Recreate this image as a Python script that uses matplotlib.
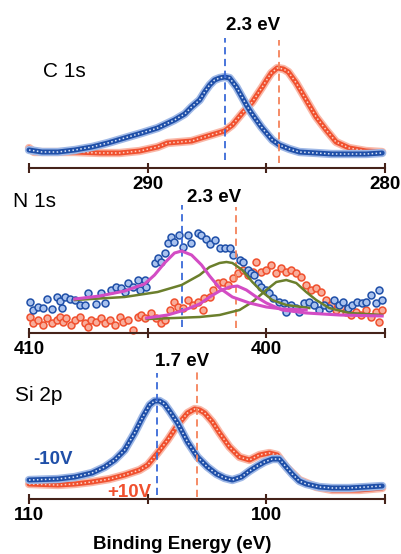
import matplotlib
matplotlib.use('Agg')
from matplotlib import pyplot as plt

plt.rcParams['font.family'] = ['Liberation Sans', 'DejaVu Sans']

W, H = 401, 554

BLUE = '#1f4fa8'
BLUE_FILL = '#a9c2ee'
RED = '#f0502e'
RED_FILL = '#f8ad9b'
BLUE_DASH = '#3a6ad8'
RED_DASH = '#f5825a'
MAGENTA = '#d34cc4'
GREEN = '#6b7f2c'
AXIS = '#45231a'

# C 1s, binding energy (eV) and intensity (a.u.)
C1S_NEG_E = [295.00, 294.45, 293.78, 293.07, 292.35, 291.68, 290.97, 290.25,
             289.58, 288.87, 288.44, 288.15, 287.81, 287.60, 287.39, 287.18,
             286.97, 286.76, 286.55, 286.26, 286.05, 285.84, 285.63, 285.42,
             285.21, 285.00, 284.75, 284.45, 284.03, 283.61, 282.90, 282.23,
             281.51, 280.80, 280.12]
C1S_NEG_I = [18, 16, 16, 18, 21, 25, 30, 35, 40, 48, 54, 61, 68, 76, 83, 88,
             90, 91, 90, 81, 72, 63, 55, 48, 41, 35, 28, 23, 19, 16, 15, 14,
             14, 14, 15]
C1S_POS_E = [295.00, 294.79, 294.12, 293.07, 292.02, 291.18, 290.34, 289.58,
             289.16, 288.65, 288.15, 287.60, 287.18, 286.76, 286.43, 286.01,
             285.59, 285.17, 284.96, 284.79, 284.54, 284.28, 284.07, 283.74,
             283.32, 282.90, 282.48, 282.06, 281.51, 280.80, 280.12]
C1S_POS_I = [20, 16, 16, 16, 15, 15, 17, 21, 25, 26, 27, 31, 34, 37, 43, 55,
             66, 81, 89, 95, 100, 99, 96, 85, 68, 51, 38, 26, 20, 17, 16]

# N 1s raw points
N1S_NEG_E = [409.96, 409.82, 409.61, 409.40, 409.26, 409.05, 408.84, 408.70,
             408.63, 408.49, 408.28, 408.07, 407.86, 407.65, 407.51, 407.16,
             406.95, 406.81, 406.53, 406.32, 406.11, 405.97, 405.83, 405.62,
             405.41, 405.34, 405.13, 405.06, 404.71, 404.57, 404.42, 404.29,
             404.15, 404.00, 403.87, 403.66, 403.52, 403.31, 403.16, 402.89,
             402.74, 402.53, 402.39, 402.18, 401.97, 401.76, 401.55, 401.42,
             401.13, 401.00, 400.79, 400.64, 400.50, 400.37, 400.22, 400.01,
             399.87, 399.74, 399.45, 399.24, 399.17, 398.96, 398.75, 398.61,
             398.40, 398.19, 397.98, 397.77, 397.56, 397.35, 397.14, 396.93,
             396.79, 396.58, 396.37, 396.16, 395.95, 395.81, 395.60, 395.39,
             395.25, 395.11]
N1S_NEG_I = [31, 23, 26, 25, 34, 24, 36, 32, 25, 36, 34, 33, 28, 28, 40, 29,
             40, 30, 43, 46, 45, 41, 50, 46, 53, 43, 53, 46, 70, 75, 71, 80,
             90, 96, 91, 98, 86, 98, 90, 100, 98, 94, 89, 93, 85, 85, 85, 78,
             73, 71, 63, 60, 58, 50, 46, 43, 40, 35, 31, 30, 21, 28, 25, 21,
             30, 31, 28, 23, 28, 25, 33, 28, 31, 25, 28, 31, 30, 31, 38, 30,
             43, 33]
N1S_POS_E = [409.96, 409.82, 409.61, 409.40, 409.26, 409.05, 408.84, 408.70,
             408.56, 408.42, 408.21, 408.07, 407.86, 407.65, 407.51, 407.37,
             407.16, 406.95, 406.81, 406.60, 406.39, 406.18, 406.04, 405.83,
             405.62, 405.41, 405.26, 405.13, 404.84, 404.63, 404.42, 404.29,
             404.08, 403.87, 403.73, 403.52, 403.31, 403.10, 402.89, 402.68,
             402.61, 402.39, 402.26, 402.05, 401.84, 401.63, 401.42, 401.21,
             401.00, 400.79, 400.58, 400.43, 400.22, 400.01, 399.80, 399.59,
             399.38, 399.17, 398.96, 398.75, 398.54, 398.33, 398.12, 397.91,
             397.70, 397.49, 397.28, 397.07, 396.86, 396.65, 396.44, 396.23,
             396.02, 395.81, 395.60, 395.39, 395.25, 395.11]
N1S_POS_I = [16, 10, 13, 8, 15, 10, 13, 16, 11, 15, 8, 13, 16, 10, 6, 13,
             11, 15, 10, 13, 8, 16, 11, 13, 3, 16, 18, 15, 20, 15, 10, 13,
             23, 31, 26, 25, 33, 28, 31, 23, 35, 36, 43, 50, 51, 48, 55, 60,
             63, 58, 61, 71, 61, 63, 68, 60, 65, 61, 63, 60, 56, 48, 43, 45,
             41, 33, 28, 23, 26, 21, 18, 21, 18, 23, 16, 21, 11, 23]

# N 1s fitted components
FIT_NEG_A_E = [408.07, 407.02, 405.97, 405.13, 404.71, 404.29, 403.87, 403.57,
               403.15, 402.73, 402.39, 401.97, 401.43, 400.71, 400.00, 399.33,
               398.32]
FIT_NEG_A_I = [34, 37, 42, 49, 58, 70, 80, 82, 78, 68, 57, 45, 36, 30, 26, 24,
               23]
FIT_NEG_B_E = [408.07, 405.97, 404.58, 403.57, 402.81, 402.39, 401.97, 401.68,
               401.43, 401.01, 400.59, 400.17, 399.75, 399.16, 398.19]
FIT_NEG_B_I = [33, 36, 41, 48, 58, 66, 70, 71, 70, 63, 51, 41, 33, 28, 25]
FIT_POS_A_E = [405.04, 404.16, 403.44, 402.81, 402.39, 401.97, 401.55, 401.22,
               400.84, 400.42, 400.00, 399.33, 398.32, 396.93, 395.12]
FIT_POS_A_I = [15, 18, 23, 29, 36, 42, 46, 47, 43, 36, 30, 23, 20, 18, 17]
FIT_POS_B_E = [405.04, 403.87, 402.81, 401.97, 401.13, 400.59, 400.00, 399.58,
               399.16, 398.74, 398.32, 397.90, 397.35, 396.51, 395.12]
FIT_POS_B_I = [14, 15, 16, 18, 23, 31, 43, 51, 53, 50, 41, 33, 25, 20, 18]

# Si 2p
SI_NEG_E = [110.00, 108.78, 108.07, 107.35, 106.81, 106.39, 105.97, 105.55,
            105.21, 104.92, 104.71, 104.50, 104.29, 104.08, 103.74, 103.32,
            102.90, 102.48, 102.10, 101.76, 101.43, 101.05, 100.71, 100.38,
            100.08, 99.75, 99.45, 99.20, 98.91, 98.61, 98.32, 97.77, 97.23,
            96.51, 95.80, 95.12]
SI_NEG_I = [19, 20, 22, 26, 32, 39, 49, 66, 82, 94, 98, 98, 95, 88, 76, 57,
            42, 32, 25, 21, 19, 22, 28, 33, 37, 40, 40, 33, 25, 18, 15, 12,
            11, 11, 12, 13]
SI_POS_E = [110.00, 108.78, 108.07, 107.35, 106.60, 105.97, 105.34, 105.00,
            104.58, 104.16, 103.74, 103.32, 103.02, 102.81, 102.60, 102.27,
            101.97, 101.55, 101.13, 100.71, 100.29, 99.87, 99.54, 99.16, 98.61,
            97.90, 97.23, 96.09, 95.12]
SI_POS_I = [15, 14, 15, 17, 20, 24, 29, 34, 46, 59, 74, 86, 90, 89, 86, 77,
            66, 52, 42, 39, 44, 46, 44, 32, 19, 12, 9, 9, 11]

# peak positions marked with dashed lines
C1S_PEAKS = (286.76, 284.46)
N1S_PEAKS = (403.57, 401.27)
SI_PEAKS = (104.62, 102.92)


def px(x, y):
    return x / W, 1 - y / H


def add_panel(fig, axis_y, xlim, ticks, labels):
    ax = fig.add_axes([29 / W, 1 - axis_y / H, 356 / W, 138 / H])
    ax.set_xlim(*xlim)
    ax.set_ylim(0, 138)
    for side in ('top', 'left', 'right'):
        ax.spines[side].set_visible(False)
    ax.spines['bottom'].set_color(AXIS)
    ax.spines['bottom'].set_linewidth(1.5)
    ax.set_yticks([])
    ax.set_xticks(ticks)
    ax.set_xticklabels(labels, fontweight='bold', fontsize=13.5)
    ax.tick_params(axis='x', direction='inout', length=7, width=1.5,
                   color=AXIS, pad=2)
    ax.patch.set_alpha(0)
    return ax


def band(ax, e, i, edge, fill, halo):
    # dense overlapping markers in the original, drawn as a speckled tube
    ax.plot(e, i, '-', color=halo, lw=6, solid_capstyle='round',
            clip_on=False)
    ax.plot(e, i, '-', color=edge, lw=3.6, solid_capstyle='round',
            clip_on=False)
    ax.plot(e, i, color=fill, lw=1.1, ls=(0, (1, 1.6)), clip_on=False)


def dots(ax, e, i, edge, fill):
    ax.plot(e, i, 'o', ms=5, mfc=fill, mec=edge, mew=1.1, ls='none',
            clip_on=False)


def dashes(ax, peaks, spans):
    for e, (lo, hi), c in zip(peaks, spans, (BLUE_DASH, RED_DASH)):
        ax.plot([e, e], [lo, hi], color=c, lw=1.3, ls=(0, (4, 2.5)),
                clip_on=False)


def main():
    fig = plt.figure(figsize=(W / 100, H / 100), dpi=100)

    ax = add_panel(fig, 168, (295, 280), [295, 290, 285, 280],
                   ['', '290', '', '280'])
    band(ax, C1S_POS_E, C1S_POS_I, RED, '#fcd2c6', '#f9b8a8')
    band(ax, C1S_NEG_E, C1S_NEG_I, BLUE, '#dce6f8', '#9fb8e6')
    dashes(ax, C1S_PEAKS, [(8, 130), (5, 128)])

    ax = add_panel(fig, 333, (410, 395), [410, 405, 400, 395],
                   ['410', '', '400', ''])
    dots(ax, N1S_POS_E, N1S_POS_I, RED, RED_FILL)
    dots(ax, N1S_NEG_E, N1S_NEG_I, BLUE, BLUE_FILL)
    dashes(ax, N1S_PEAKS, [(6, 128), (5, 126)])
    ax.plot(FIT_NEG_B_E, FIT_NEG_B_I, color=GREEN, lw=1.8)
    ax.plot(FIT_POS_B_E, FIT_POS_B_I, color=GREEN, lw=1.8)
    ax.plot(FIT_NEG_A_E, FIT_NEG_A_I, color=MAGENTA, lw=2.2)
    ax.plot(FIT_POS_A_E, FIT_POS_A_I, color=MAGENTA, lw=2.2)

    ax = add_panel(fig, 499, (110, 95), [110, 105, 100, 95],
                   ['110', '', '100', ''])
    band(ax, SI_POS_E, SI_POS_I, RED, '#fcd2c6', '#f9b8a8')
    band(ax, SI_NEG_E, SI_NEG_I, BLUE, '#dce6f8', '#9fb8e6')
    dashes(ax, SI_PEAKS, [(4, 126), (2, 127)])

    bold = dict(fontsize=13.5, fontweight='bold', va='baseline')
    fig.text(*px(253, 30), '2.3 eV', ha='center', **bold)
    fig.text(*px(214, 202), '2.3 eV', ha='center', **bold)
    fig.text(*px(182, 366), '1.7 eV', ha='center', **bold)
    fig.text(*px(33, 464), '-10V', ha='left', color=BLUE, **bold)
    fig.text(*px(107, 497), '+10V', ha='left', color=RED, **bold)
    fig.text(*px(182, 549), 'Binding Energy (eV)', ha='center', **bold)

    plain = dict(fontsize=15, va='baseline')
    fig.text(*px(43, 77), 'C 1s', ha='left', **plain)
    fig.text(*px(13, 207), 'N 1s', ha='left', **plain)
    fig.text(*px(15, 401), 'Si 2p', ha='left', **plain)

    fig.savefig('out.png', dpi=100)


if __name__ == '__main__':
    main()
